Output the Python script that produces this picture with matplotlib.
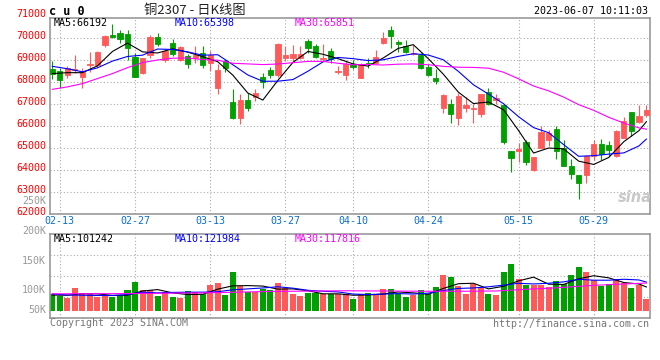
import matplotlib
matplotlib.use('Agg')
import matplotlib.pyplot as plt
from matplotlib.transforms import blended_transform_factory, offset_copy

W, H = 660, 360

# ---- data ----
date_labels = ['02-13', '02-27', '03-13', '03-27', '04-10', '04-24', '05-15', '05-29']
date_index = [1, 11, 21, 31, 40, 50, 62, 72]

opens = [68590, 68500, 68310, 68570, 68215, 68770, 68770, 69690, 70135, 70240,
         70200, 69150, 68410, 69225, 70060, 68990, 69803, 69012, 69195, 69119,
         69347, 68890, 67720, 68966, 67110, 66380, 67200, 67340, 68240, 68540,
         68330, 69090, 69090, 69119, 69880, 69650, 69043, 69438, 68480, 68330,
         68814, 68205, 68860, 68860, 69804, 70367, 69819, 69651, 69271, 69240,
         68708, 68205, 66805, 67018, 66348, 66805, 66775, 66531, 67566, 67170,
         66957, 64857, 64842, 65268, 63974, 64980, 65344, 65840, 64980, 64150,
         63746, 63760, 64640, 65192, 65116, 64640, 65470, 66615, 66200, 66510]
highs = [68960, 68630, 68740, 69260, 68650, 69370, 69400, 70160, 70630, 70400,
         70380, 69340, 69110, 70170, 70230, 69520, 69950, 69650, 69300, 69650,
         69650, 69420, 68814, 69040, 67670, 67440, 67520, 67670, 68430, 68690,
         69800, 69650, 69700, 69650, 69990, 69760, 69760, 69545, 68740, 68996,
         68996, 68890, 69119, 69453, 70306, 70565, 69910, 69910, 69697, 69347,
         68814, 68586, 67475, 67247, 67520, 67323, 67018, 67475, 67749, 67475,
         66988, 64870, 65238, 65344, 64600, 65980, 65830, 65980, 65370, 64480,
         63746, 64670, 65340, 65390, 65320, 65830, 66420, 66650, 66960, 66960]
lows = [68120, 67740, 68200, 68420, 67745, 68460, 68700, 69620, 70000, 69800,
        68990, 68210, 68390, 69120, 69660, 68900, 69200, 68966, 68630, 68860,
        68660, 68510, 67444, 68480, 66300, 66100, 66660, 67140, 67720, 68180,
        68240, 68966, 68966, 69040, 69350, 69090, 68966, 68890, 68390, 68084,
        68590, 68205, 68662, 68814, 69758, 69575, 69393, 69347, 69225, 68586,
        68280, 67901, 66607, 66150, 66044, 66653, 66150, 66425, 66957, 66988,
        65192, 63900, 64370, 64218, 63930, 64980, 65080, 64480, 64150, 63570,
        62681, 63380, 64460, 64430, 64620, 64560, 65430, 65560, 66110, 66410]
closes = [68355, 68085, 68655, 68605, 68450, 68845, 69385, 70110, 70045, 69970,
          69560, 68255, 69080, 70080, 69740, 69420, 69271, 69606, 68814, 69240,
          68768, 69240, 68540, 68662, 66380, 67200, 66800, 67520, 68020, 68330,
          69727, 69225, 69300, 69270, 69575, 69150, 69119, 69043, 68510, 68814,
          68708, 68814, 68814, 69164, 70032, 70093, 69758, 69393, 69347, 68631,
          68312, 68038, 67414, 66531, 67368, 66942, 66805, 67475, 67018, 67262,
          65283, 64553, 64964, 64355, 64560, 65740, 65680, 64860, 64180, 63820,
          63400, 64640, 65185, 64730, 64880, 65750, 66235, 65760, 66430, 66735]
# volume in thousands of lots
volumes = [69.6, 63.9, 55.4, 98, 75.3, 69.6, 59.6, 62.5, 59.6, 62.5,
           88, 123.5, 88, 88, 63.9, 81, 59.6, 55.4, 83.8, 79.5,
           69.6, 109, 119, 66.7, 166, 105, 81, 81, 91, 88,
           119, 95, 71, 64, 76.7, 76.7, 69.6, 69.6, 69.6, 69.6,
           49.7, 71, 73.8, 69.6, 92.3, 92.3, 69.6, 58.2, 66.7, 88,
           69.6, 100.8, 152, 143.4, 106.5, 71, 113.6, 102, 71, 66.7,
           164.7, 198.8, 134.9, 109.3, 109.3, 109.3, 102, 126.4, 112, 152,
           186, 164.7, 130.6, 106.5, 112, 133.5, 119.3, 98, 109.3, 49.7]

ma_index = list(range(0, 80, 2)) + [79]
ma5 = [68390, 68430, 68430, 68740, 69400, 69780, 69380, 69330, 69520, 69370,
       69160, 68930, 68320, 67500, 67180, 68080, 68900, 69400, 69270, 69070,
       68830, 68730, 69100, 69540, 69710, 69070, 68360, 67540, 67020, 67090,
       66740, 65790, 64760, 64990, 64950, 64390, 64240, 64560, 65280, 65780, 66192]
ma10 = [68720, 68610, 68470, 68650, 68960, 69170, 69230, 69510, 69490, 69380,
        69227, 69250, 68794, 68325, 68037, 68042, 68116, 68497, 68924, 69125,
        69071, 68982, 69017, 69175, 69294, 69236, 69018, 68489, 67878, 67453,
        67014, 66420, 65922, 65689, 65144, 64611, 64642, 64712, 64768, 65083, 65398]
ma30 = [67670, 67780, 67930, 68160, 68390, 68660, 68890, 69010, 69090, 69100,
        69030, 69000, 68860, 68830, 68800, 68826, 68885, 68945, 68946, 68859,
        68792, 68802, 68781, 68819, 68830, 68795, 68717, 68679, 68670, 68636,
        68450, 68150, 67820, 67600, 67315, 66970, 66710, 66390, 66130, 65910, 65851]

vol_ma5 = [66.7, 66, 72, 72, 65, 66, 84, 90, 76, 69,
           70, 92, 106, 107, 105, 92, 93, 85, 72, 72,
           66, 67, 71, 80, 76, 70, 95, 115, 117, 93,
           104, 127, 143, 113, 112, 136, 149, 140, 120, 114, 101.2]
vol_ma10 = [71, 67, 66, 65, 65, 69, 79, 76, 78, 79,
            79, 81, 89, 93, 97, 102, 96, 87, 83, 80,
            71, 69, 71, 73, 71, 75, 86, 95, 97, 102,
            109, 117, 114, 117, 123, 134, 130, 130, 134, 131, 122]
vol_ma30_index = [0, 10, 20, 29, 39, 49, 55, 59, 64, 66, 69, 72, 74, 76, 79]
vol_ma30 = [72, 73, 76, 82, 85, 83, 83, 84, 93, 95.5, 101.6, 108, 111, 114, 117.8]

price_ticks = [71000, 70000, 69000, 68000, 67000, 66000, 65000, 64000, 63000, 62000]
vol_tick_labels = ['250K', '200K', '150K', '100K', '50K']
vol_tick_y = [200.7, 230.7, 260.7, 290, 310]   # pixel rows in the reference

# ---- style ----
UP, DOWN = '#ff5a5a', '#00a000'
GRID = '#aaaaaa'
MONO = 'DejaVu Sans Mono'
FS = 7.2
plt.rcParams['font.family'] = [MONO, 'Noto Sans CJK SC']

fig = plt.figure(figsize=(W / 100, H / 100), dpi=100)
fig.patch.set_facecolor('white')


def px_axes(left, top, right, bottom):
    return fig.add_axes([left / W, 1 - bottom / H, (right - left) / W, (bottom - top) / H])


def px_text(x, y, s, **kw):
    fig.text(x / W, 1 - y / H, s, **kw)


ax = px_axes(50, 18.3, 650, 213.5)
axv = px_axes(50, 234.3, 650, 318)

xlim = (-0.306, 79.48)
for a in (ax, axv):
    a.set_xlim(*xlim)
    a.set_xticks([])
    a.set_yticks([])
    for s in a.spines.values():
        s.set_color('#999999')
        s.set_linewidth(1.2)
    for i in date_index:
        a.axvline(i, color=GRID, ls=(0, (1, 2)), lw=0.8, zorder=0)

# price panel
ax.set_ylim(62000, 70913)
for p in price_ticks[1:-1]:
    ax.axhline(p, color=GRID, ls=(0, (1, 2)), lw=0.8, zorder=0)

xs = list(range(len(closes)))
colors = [UP if c >= o else DOWN for o, c in zip(opens, closes)]
ax.vlines(xs, lows, highs, colors=colors, lw=0.8, zorder=2)
bottoms = [min(o, c) for o, c in zip(opens, closes)]
heights = [abs(c - o) for o, c in zip(opens, closes)]
ax.bar(xs, heights, bottom=bottoms, width=0.7, color=colors, edgecolor=colors,
       linewidth=0.6, zorder=3)

ax.plot(ma_index, ma5, color='black', lw=0.8, zorder=4)
ax.plot(ma_index, ma10, color='#0000ff', lw=0.8, zorder=4)
ax.plot(ma_index, ma30, color='#ff00ff', lw=0.8, zorder=4)

lab_tr = offset_copy(blended_transform_factory(ax.transAxes, ax.transData), fig=fig, y=2, units='dots')
for p in price_ticks:
    ax.text(-4 / 600, p, str(p), transform=lab_tr, ha='right', va='center',
            color='#ff0000', fontsize=FS, family=MONO, clip_on=False)

date_tr = blended_transform_factory(ax.transData, ax.transAxes)
for i, lab in zip(date_index, date_labels):
    ax.text(i, -0.0384, lab, transform=date_tr, ha='center', va='center',
            color='#0a6fc8', fontsize=FS, family=MONO, clip_on=False)

# volume panel
vlo, vhi = -31, 325.5
axv.set_ylim(vlo, vhi)
for f in (0.25, 0.5, 0.75):
    axv.axhline(vlo + f * (vhi - vlo), color=GRID, ls=(0, (1, 2)), lw=0.8, zorder=0)
axv.bar(xs, volumes, width=0.8, color=colors, linewidth=0, zorder=2)
axv.plot(ma_index, vol_ma5, color='black', lw=0.8, zorder=4)
axv.plot(ma_index, vol_ma10, color='#0000ff', lw=0.8, zorder=4)
axv.plot(vol_ma30_index, vol_ma30, color='#ff00ff', lw=0.8, zorder=4)

for lab, y in zip(vol_tick_labels, vol_tick_y):
    px_text(46, y, lab, ha='right', va='center', color='#999999', fontsize=FS, family=MONO)

# header texts
px_text(49, 11.5, 'c u 0', ha='left', va='center', fontsize=8.5, fontweight='bold', family=MONO)
px_text(195, 10.5, '铜2307 - 日K线图', ha='center', va='center', fontsize=9.5,
        color='#222222', family=['Noto Sans CJK SC', 'DejaVu Sans'])
px_text(648, 11.5, '2023-06-07 10:11:03', ha='right', va='center', fontsize=FS, family=MONO)

px_text(54, 23.5, 'MA5:%d' % ma5[-1], ha='left', va='center', fontsize=FS, family=MONO, color='black')
px_text(175, 23.5, 'MA10:%d' % ma10[-1], ha='left', va='center', fontsize=FS, family=MONO, color='#0000ff')
px_text(295, 23.5, 'MA30:%d' % ma30[-1], ha='left', va='center', fontsize=FS, family=MONO, color='#ff00ff')

px_text(54, 238.5, 'MA5:101242', ha='left', va='center', fontsize=FS, family=MONO, color='black')
px_text(175, 238.5, 'MA10:121984', ha='left', va='center', fontsize=FS, family=MONO, color='#0000ff')
px_text(295, 238.5, 'MA30:117816', ha='left', va='center', fontsize=FS, family=MONO, color='#ff00ff')

px_text(635, 197, 'sina', ha='center', va='center', fontsize=10.5, fontweight='bold',
        style='italic', color='#c8c8c8', family='DejaVu Sans')

px_text(50, 323.5, 'Copyright 2023 SINA.COM', ha='left', va='center', fontsize=FS,
        family=MONO, color='#777777')
px_text(649, 324, 'http://finance.sina.com.cn', ha='right', va='center', fontsize=FS,
        family=MONO, color='#777777')

fig.savefig('out.png', dpi=100, facecolor='white')
